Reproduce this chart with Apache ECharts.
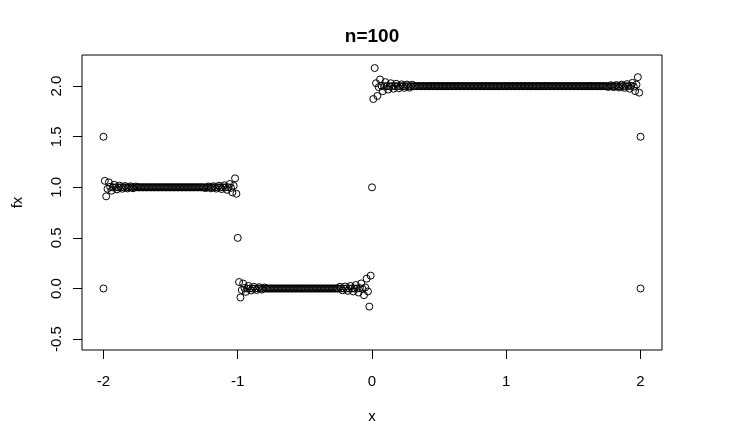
<!DOCTYPE html>
<html>
<head>
<meta charset="utf-8">
<script src="https://cdn.jsdelivr.net/npm/echarts@6/dist/echarts.min.js"></script>
<style>html,body{margin:0;padding:0;background:#fff;}#c{width:737px;height:439px;}</style>
</head>
<body>
<div id="c"></div>
<script>
const titleText = 'n=100';
const xName = 'x';
const yName = 'fx';
const xTicks = [-2, -1, 0, 1, 2];
const yTicks = [-0.5, 0, 0.5, 1, 1.5, 2];

const xs = [
-2,-1.99,-1.98,-1.97,-1.96,-1.95,-1.94,-1.93,-1.92,-1.91,
-1.9,-1.89,-1.88,-1.87,-1.86,-1.85,-1.84,-1.83,-1.82,-1.81,
-1.8,-1.79,-1.78,-1.77,-1.76,-1.75,-1.74,-1.73,-1.72,-1.71,
-1.7,-1.69,-1.68,-1.67,-1.66,-1.65,-1.64,-1.63,-1.62,-1.61,
-1.6,-1.59,-1.58,-1.57,-1.56,-1.55,-1.54,-1.53,-1.52,-1.51,
-1.5,-1.49,-1.48,-1.47,-1.46,-1.45,-1.44,-1.43,-1.42,-1.41,
-1.4,-1.39,-1.38,-1.37,-1.36,-1.35,-1.34,-1.33,-1.32,-1.31,
-1.3,-1.29,-1.28,-1.27,-1.26,-1.25,-1.24,-1.23,-1.22,-1.21,
-1.2,-1.19,-1.18,-1.17,-1.16,-1.15,-1.14,-1.13,-1.12,-1.11,
-1.1,-1.09,-1.08,-1.07,-1.06,-1.05,-1.04,-1.03,-1.02,-1.01,
-1,-0.99,-0.98,-0.97,-0.96,-0.95,-0.94,-0.93,-0.92,-0.91,
-0.9,-0.89,-0.88,-0.87,-0.86,-0.85,-0.84,-0.83,-0.82,-0.81,
-0.8,-0.79,-0.78,-0.77,-0.76,-0.75,-0.74,-0.73,-0.72,-0.71,
-0.7,-0.69,-0.68,-0.67,-0.66,-0.65,-0.64,-0.63,-0.62,-0.61,
-0.6,-0.59,-0.58,-0.57,-0.56,-0.55,-0.54,-0.53,-0.52,-0.51,
-0.5,-0.49,-0.48,-0.47,-0.46,-0.45,-0.44,-0.43,-0.42,-0.41,
-0.4,-0.39,-0.38,-0.37,-0.36,-0.35,-0.34,-0.33,-0.32,-0.31,
-0.3,-0.29,-0.28,-0.27,-0.26,-0.25,-0.24,-0.23,-0.22,-0.21,
-0.2,-0.19,-0.18,-0.17,-0.16,-0.15,-0.14,-0.13,-0.12,-0.11,
-0.1,-0.09,-0.08,-0.07,-0.06,-0.05,-0.04,-0.03,-0.02,-0.01,
0,0.01,0.02,0.03,0.04,0.05,0.06,0.07,0.08,0.09,
0.1,0.11,0.12,0.13,0.14,0.15,0.16,0.17,0.18,0.19,
0.2,0.21,0.22,0.23,0.24,0.25,0.26,0.27,0.28,0.29,
0.3,0.31,0.32,0.33,0.34,0.35,0.36,0.37,0.38,0.39,
0.4,0.41,0.42,0.43,0.44,0.45,0.46,0.47,0.48,0.49,
0.5,0.51,0.52,0.53,0.54,0.55,0.56,0.57,0.58,0.59,
0.6,0.61,0.62,0.63,0.64,0.65,0.66,0.67,0.68,0.69,
0.7,0.71,0.72,0.73,0.74,0.75,0.76,0.77,0.78,0.79,
0.8,0.81,0.82,0.83,0.84,0.85,0.86,0.87,0.88,0.89,
0.9,0.91,0.92,0.93,0.94,0.95,0.96,0.97,0.98,0.99,
1,1.01,1.02,1.03,1.04,1.05,1.06,1.07,1.08,1.09,
1.1,1.11,1.12,1.13,1.14,1.15,1.16,1.17,1.18,1.19,
1.2,1.21,1.22,1.23,1.24,1.25,1.26,1.27,1.28,1.29,
1.3,1.31,1.32,1.33,1.34,1.35,1.36,1.37,1.38,1.39,
1.4,1.41,1.42,1.43,1.44,1.45,1.46,1.47,1.48,1.49,
1.5,1.51,1.52,1.53,1.54,1.55,1.56,1.57,1.58,1.59,
1.6,1.61,1.62,1.63,1.64,1.65,1.66,1.67,1.68,1.69,
1.7,1.71,1.72,1.73,1.74,1.75,1.76,1.77,1.78,1.79,
1.8,1.81,1.82,1.83,1.84,1.85,1.86,1.87,1.88,1.89,
1.9,1.91,1.92,1.93,1.94,1.95,1.96,1.97,1.98,1.99,
2
];

const fx = [
1.5,1.064,0.911,0.985,1.049,1.005,0.967,1,1.025,1,
0.98,1,1.017,1,0.986,1,1.013,1,0.989,1,
1.01,1,0.991,1,1.008,1,1,1,1,1,
1,1,1,1,1,1,1,1,1,1,
1,1,1,1,1,1,1,1,1,1,
1,1,1,1,1,1,1,1,1,1,
1,1,1,1,1,1,1,1,1,1,
1,1,1,1,1,1,0.992,1,1.009,1,
0.99,1,1.011,1,0.987,1,1.015,1,0.983,1,
1.02,1,0.975,1,1.033,0.995,0.951,1.015,1.089,0.936,
0.5,0.064,-0.089,-0.015,0.049,0.005,-0.033,0,0.025,0,
-0.02,0,0.017,0,-0.015,0,0.013,0,-0.011,0,
0.01,0,0,0,0,0,0,0,0,0,
0,0,0,0,0,0,0,0,0,0,
0,0,0,0,0,0,0,0,0,0,
0,0,0,0,0,0,0,0,0,0,
0,0,0,0,0,0,0,0,0,0,
0,0,0,0,0,0,0.017,0,-0.018,0,
0.02,0,-0.023,0,0.025,0,-0.029,0,0.034,0,
-0.04,0.003,0.05,-0.005,-0.066,0.01,0.097,-0.029,-0.179,0.127,
1,1.873,2.179,2.029,1.903,1.99,2.066,2.005,1.95,1.997,
2.04,2.002,1.966,1.998,2.029,2,1.975,2,2.023,2,
1.98,2,2.018,2,1.983,2,2.016,2,1.986,2,
2.014,2,2,2,2,2,2,2,2,2,
2,2,2,2,2,2,2,2,2,2,
2,2,2,2,2,2,2,2,2,2,
2,2,2,2,2,2,2,2,2,2,
2,2,2,2,2,2,2,2,2,2,
2,2,2,2,2,2,2,2,2,2,
2,2,2,2,2,2,2,2,2,2,
2,2,2,2,2,2,2,2,2,2,
2,2,2,2,2,2,2,2,2,2,
2,2,2,2,2,2,2,2,2,2,
2,2,2,2,2,2,2,2,2,2,
2,2,2,2,2,2,2,2,2,2,
2,2,2,2,2,2,2,2,2,2,
2,2,2,2,2,2,2,2,2,2,
2,2,2,2,2,2,1.992,2,2.009,2,
1.99,2,2.011,2,1.987,2,2.015,2,1.983,2,
2.02,2,1.975,2.003,2.033,1.995,1.951,2.015,2.089,1.936,
1.5
];

const extraX = [-2, 2];
const extraY = [0, 0];

const data = xs.map((x, i) => [x, fx[i]]);
extraX.forEach((x, i) => data.push([x, extraY[i]]));

const FONT = "'Liberation Sans', Arial, sans-serif";
const chart = echarts.init(document.getElementById('c'), null, {renderer: 'canvas'});
chart.setOption({
  animation: false,
  backgroundColor: '#fff',
  graphic: [{
    type: 'text', x: 372, y: 37, z: 10,
    style: {text: titleText, align: 'center', verticalAlign: 'middle',
      font: "bold 19px 'Liberation Sans', Arial, sans-serif", fill: '#000'}
  }],
  grid: {left: 82, right: 75, top: 55, bottom: 89, show: true,
    borderColor: '#000', borderWidth: 1, backgroundColor: 'transparent'},
  xAxis: {
    type: 'value', min: -2.16, max: 2.16, position: 'bottom',
    name: xName, nameLocation: 'middle', nameGap: 59,
    nameTextStyle: {color: '#000', fontSize: 15, fontFamily: FONT},
    axisLine: {show: false, onZero: false},
    axisTick: {show: true, length: 9, inside: false, customValues: xTicks, lineStyle: {color: '#000', width: 1}},
    axisLabel: {customValues: xTicks, color: '#000', fontSize: 15, fontFamily: FONT, margin: 24},
    splitLine: {show: false}
  },
  yAxis: {
    type: 'value', min: -0.608, max: 2.308, position: 'left',
    name: yName, nameLocation: 'middle', nameGap: 57, nameRotate: 90,
    nameTextStyle: {color: '#000', fontSize: 15, fontFamily: FONT},
    axisLine: {show: false, onZero: false},
    axisTick: {show: true, length: 9, inside: false, customValues: yTicks, lineStyle: {color: '#000', width: 1}},
    axisLabel: {customValues: yTicks, color: '#000', fontSize: 15, fontFamily: FONT, margin: 18, rotate: 90,
      formatter: v => v.toFixed(1)},
    splitLine: {show: false}
  },
  series: [{
    type: 'scatter',
    data: data,
    symbol: 'circle',
    symbolSize: 7,
    itemStyle: {color: 'rgba(0,0,0,0)', borderColor: '#000', borderWidth: 1, opacity: 1},
    emphasis: {disabled: true},
    silent: true
  }]
});
</script>
</body>
</html>
